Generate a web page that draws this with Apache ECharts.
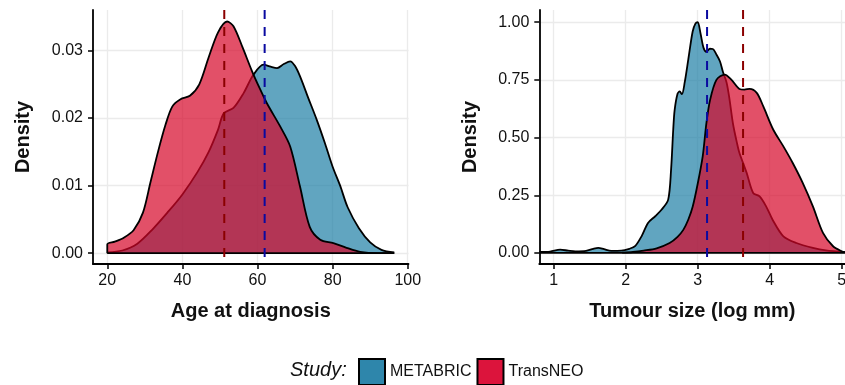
<!DOCTYPE html>
<html>
<head>
<meta charset="utf-8">
<title>Age and tumour size by study</title>
<script src="https://cdn.jsdelivr.net/npm/echarts@6/dist/echarts.min.js"></script>
<style>
  html, body { margin: 0; padding: 0; background: #fff; }
  #chart { width: 845px; height: 385px; }
</style>
</head>
<body>
<div id="chart"></div>
<script>
// Kernel density estimates, age at diagnosis
const ageMetabricX = [20, 24, 28, 32, 36, 40, 44, 47, 49.5, 51, 53.6, 56.3, 58.9, 61.6, 63.5, 65.2, 67, 68.7, 70, 71.3, 73.5, 75.8, 78, 80, 82, 84, 87, 90, 93, 96.4];
const ageMetabricY = [0.0001, 0.0004, 0.0014, 0.0035, 0.0060, 0.0087, 0.0120, 0.0150, 0.0183, 0.0207, 0.0215, 0.0237, 0.0264, 0.0279, 0.0276, 0.0274, 0.0280, 0.0284, 0.0277, 0.0262, 0.0230, 0.0197, 0.0162, 0.0128, 0.0100, 0.0068, 0.0037, 0.0016, 0.0005, 0.0001];
const ageTransneoX = [20, 20, 22, 24.4, 27, 29.5, 31.5, 33.5, 35.5, 37.3, 39.5, 42, 44.5, 47, 49.5, 51.9, 53.6, 56, 58.5, 60.5, 62.5, 66, 68.7, 71.3, 73.9, 76.7, 80.2, 83.7, 87.3, 92, 96.4];
const ageTransneoY = [0, 0.0013, 0.0017, 0.0023, 0.0034, 0.0060, 0.0105, 0.0150, 0.0190, 0.0217, 0.0228, 0.0233, 0.0250, 0.0290, 0.0327, 0.0343, 0.0336, 0.0305, 0.0270, 0.0245, 0.0222, 0.0188, 0.0158, 0.0099, 0.0039, 0.0020, 0.0015, 0.0008, 0.0002, 0.0000, 0];

// Kernel density estimates, tumour size (log mm)
const sizeMetabricX = [0.8, 0.95, 1.09, 1.2, 1.3, 1.45, 1.55, 1.62, 1.7, 1.8, 1.94, 2.05, 2.13, 2.22, 2.31, 2.41, 2.5, 2.59, 2.63, 2.66, 2.68, 2.72, 2.75, 2.78, 2.82, 2.87, 2.93, 2.97, 3.0, 3.04, 3.08, 3.12, 3.17, 3.21, 3.26, 3.31, 3.35, 3.4, 3.44, 3.49, 3.55, 3.58, 3.68, 3.77, 3.86, 3.95, 4.04, 4.19, 4.37, 4.6, 4.78, 5.05];
const sizeMetabricY = [0.004, 0.006, 0.014, 0.010, 0.007, 0.009, 0.018, 0.022, 0.016, 0.009, 0.010, 0.018, 0.029, 0.072, 0.130, 0.159, 0.188, 0.231, 0.360, 0.534, 0.620, 0.690, 0.700, 0.688, 0.740, 0.840, 0.960, 0.995, 1.000, 0.950, 0.890, 0.872, 0.885, 0.884, 0.860, 0.830, 0.785, 0.740, 0.670, 0.560, 0.470, 0.433, 0.347, 0.260, 0.245, 0.202, 0.144, 0.072, 0.043, 0.022, 0.011, 0.003];
const sizeTransneoX = [1.95, 2.1, 2.25, 2.43, 2.61, 2.72, 2.8, 2.87, 2.93, 3.0, 3.07, 3.12, 3.17, 3.26, 3.375, 3.47, 3.58, 3.65, 3.72, 3.82, 3.91, 4.05, 4.19, 4.32, 4.46, 4.6, 4.74, 4.88, 5.0, 5.05];
const sizeTransneoY = [0.001, 0.004, 0.010, 0.020, 0.043, 0.070, 0.100, 0.145, 0.200, 0.300, 0.420, 0.560, 0.660, 0.750, 0.773, 0.750, 0.711, 0.708, 0.711, 0.694, 0.636, 0.534, 0.462, 0.390, 0.303, 0.202, 0.087, 0.029, 0.007, 0.003];

// Study means (dashed reference lines)
const ageMeans = { METABRIC: 61.9, TransNEO: 51.15 };
const sizeMeans = { METABRIC: 3.13, TransNEO: 3.63 };

// Tick positions
const ageTicks = [20, 40, 60, 80, 100];
const ageDensityTicks = [0, 0.01, 0.02, 0.03];
const sizeTicks = [1, 2, 3, 4, 5];
const sizeDensityTicks = [0, 0.25, 0.5, 0.75, 1];

const studies = ['METABRIC', 'TransNEO'];
const studyColors = { METABRIC: '#2E86AB', TransNEO: '#DC143C' };
const studyFills = { METABRIC: 'rgba(30,127,165,0.7)', TransNEO: 'rgba(213,5,40,0.7)' };
const meanColors = { METABRIC: '#0A0AA0', TransNEO: '#8B0000' };

const FONT = '"Liberation Sans", Arial, Helvetica, sans-serif';
const INK = '#111';

const zip = (xs, ys) => xs.map((x, i) => [x, ys[i]]);

const panels = [
  {
    xRange: [16.2, 100.2], yRange: [-0.0016, 0.036],
    xTicks: ageTicks, yTicks: ageDensityTicks,
    xFmt: v => String(v), yFmt: v => v.toFixed(2),
    title: 'Age at diagnosis',
    curves: { METABRIC: zip(ageMetabricX, ageMetabricY), TransNEO: zip(ageTransneoX, ageTransneoY) },
    means: ageMeans
  },
  {
    xRange: [0.8, 5.05], yRange: [-0.048, 1.053],
    xTicks: sizeTicks, yTicks: sizeDensityTicks,
    xFmt: v => String(v), yFmt: v => v.toFixed(2),
    title: 'Tumour size (log mm)',
    curves: { METABRIC: zip(sizeMetabricX, sizeMetabricY), TransNEO: zip(sizeTransneoX, sizeTransneoY) },
    means: sizeMeans
  }
];

const grids = [
  { left: 93, top: 10, width: 315.5, height: 254, outerBoundsMode: 'none', containLabel: false },
  { left: 539.3, top: 10, width: 306, height: 254, outerBoundsMode: 'none', containLabel: false }
];

const xAxes = [], yAxes = [], series = [];

panels.forEach((p, i) => {
  xAxes.push({
    type: 'value', gridIndex: i, min: p.xRange[0], max: p.xRange[1],
    name: p.title, nameLocation: 'middle', nameGap: 37,
    nameTextStyle: { fontFamily: FONT, fontSize: 20, fontWeight: 'bold', color: INK },
    axisLine: { show: true, onZero: false, lineStyle: { color: '#000', width: 1.8 } },
    axisTick: { show: true, length: 5, customValues: p.xTicks, lineStyle: { color: '#000', width: 1.5 } },
    axisLabel: { customValues: p.xTicks, formatter: p.xFmt, margin: 9, fontFamily: FONT, fontSize: 16, color: INK },
    splitLine: { show: true, lineStyle: { color: '#EBEBEB', width: 1.3 } }
  });
  yAxes.push({
    type: 'value', gridIndex: i, min: p.yRange[0], max: p.yRange[1],
    name: 'Density', nameLocation: 'middle', nameGap: i === 0 ? 60 : 59, nameRotate: 90,
    nameTextStyle: { fontFamily: FONT, fontSize: 20, fontWeight: 'bold', color: INK },
    axisLine: { show: true, onZero: false, lineStyle: { color: '#000', width: 1.8 } },
    axisTick: { show: true, length: 5, customValues: p.yTicks, lineStyle: { color: '#000', width: 1.5 } },
    axisLabel: { customValues: p.yTicks, formatter: p.yFmt, margin: 10, fontFamily: FONT, fontSize: 16, color: INK },
    splitLine: { show: true, lineStyle: { color: '#EBEBEB', width: 1.3 } }
  });

  // Filled density curves, METABRIC first so TransNEO overlays it
  studies.forEach((s, k) => {
    series.push({
      name: s, type: 'line', xAxisIndex: i, yAxisIndex: i,
      data: p.curves[s], showSymbol: false, smooth: 0.3,
      z: 2 + k,
      itemStyle: { color: studyColors[s] },
      lineStyle: { color: '#000', width: 1.8 },
      areaStyle: { color: studyFills[s], opacity: 1 },
      silent: true
    });
  });

  // Black baseline under both densities
  const lo = Math.min(p.curves.METABRIC[0][0], p.curves.TransNEO[0][0]);
  const hi = Math.max(p.curves.METABRIC[p.curves.METABRIC.length - 1][0], p.curves.TransNEO[p.curves.TransNEO.length - 1][0]);
  series.push({
    type: 'line', xAxisIndex: i, yAxisIndex: i, data: [[lo, 0], [hi, 0]],
    showSymbol: false, z: 4, lineStyle: { color: '#000', width: 1.8 }, silent: true
  });

  // Dashed mean lines
  studies.forEach(s => {
    series.push({
      type: 'line', xAxisIndex: i, yAxisIndex: i,
      data: [[p.means[s], p.yRange[1]], [p.means[s], p.yRange[0]]],
      showSymbol: false, z: 5, silent: true,
      lineStyle: { color: meanColors[s], width: 2, type: [9, 8] }
    });
  });
});

const chart = echarts.init(document.getElementById('chart'), null, { renderer: 'canvas' });
chart.setOption({
  animation: false,
  backgroundColor: '#fff',
  grid: grids,
  xAxis: xAxes,
  yAxis: yAxes,
  series: series,
  legend: {
    left: 353, top: 353, padding: 5,
    icon: 'rect', itemWidth: 26, itemHeight: 26, itemGap: 5,
    textStyle: { fontFamily: FONT, fontSize: 16, color: INK },
    selectedMode: false,
    data: studies.map(s => ({
      name: s,
      itemStyle: { color: studyColors[s], borderColor: '#000', borderWidth: 2 }
    }))
  },
  graphic: [{
    type: 'text', left: 290, top: 360,
    style: { text: 'Study:', fontFamily: FONT, fontSize: 20, fontStyle: 'italic', fill: INK }
  }]
});
</script>
</body>
</html>
